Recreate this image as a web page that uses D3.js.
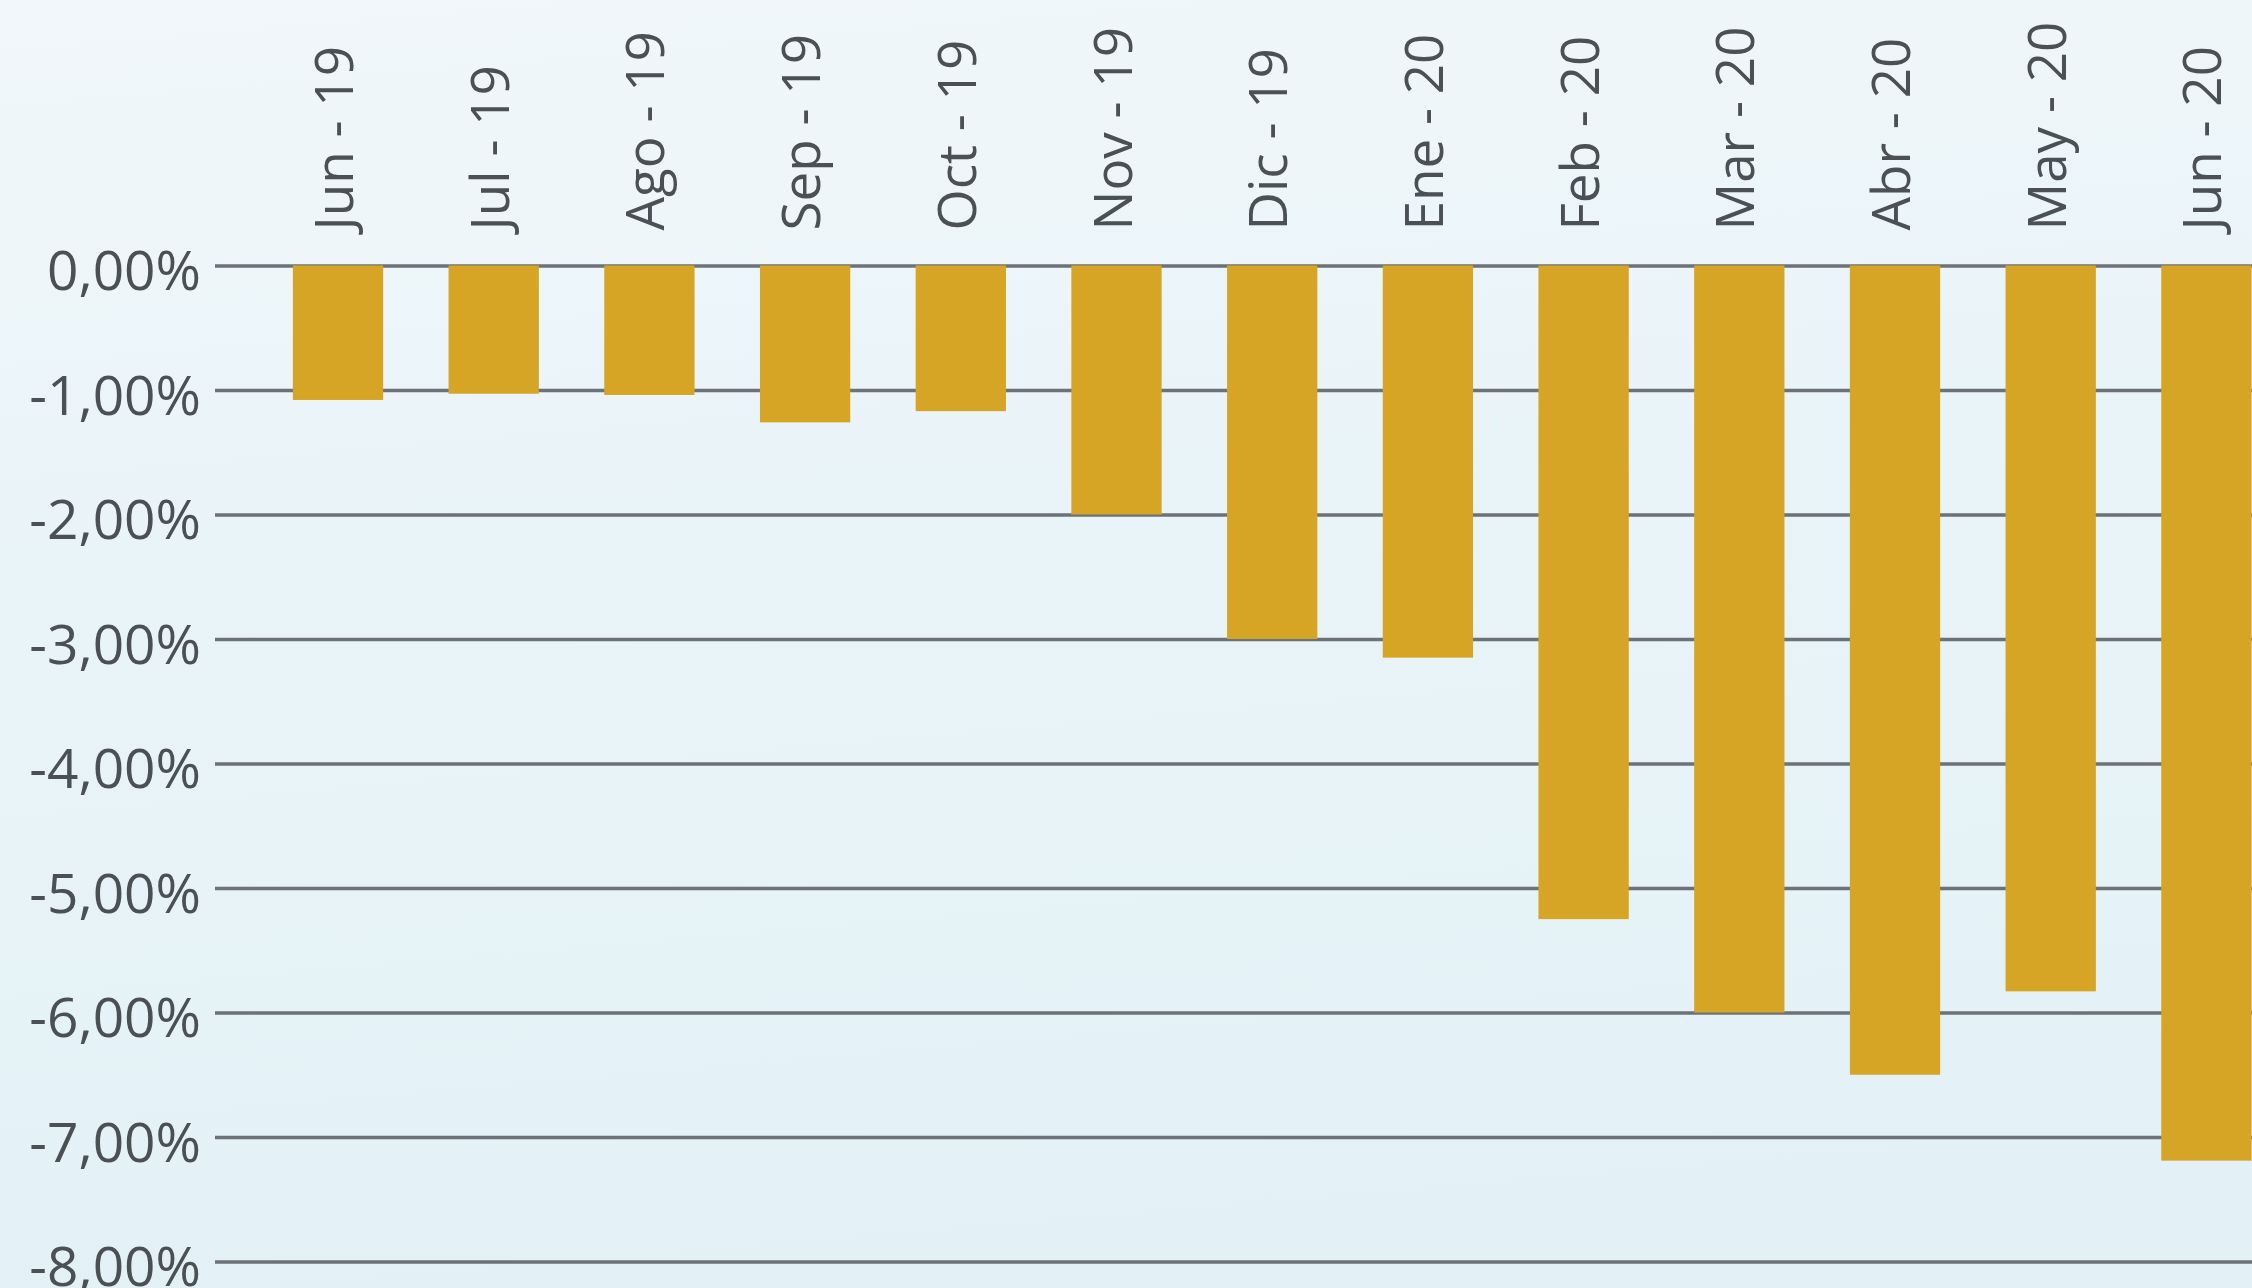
<!DOCTYPE html>
<html>
<head>
<meta charset="utf-8">
<script src="https://cdn.jsdelivr.net/npm/d3@7"></script>
<style>
  html, body { margin: 0; padding: 0; overflow: hidden; }
  body { width: 2252px; height: 1288px; }
</style>
</head>
<body>
<svg id="chart" width="2252" height="1288"></svg>
<script>
const categories = ["Jun - 19", "Jul - 19", "Ago - 19", "Sep - 19", "Oct - 19", "Nov - 19", "Dic - 19",
                    "Ene - 20", "Feb - 20", "Mar - 20", "Abr - 20", "May - 20", "Jun - 20"];
const values = [-1.08, -1.03, -1.04, -1.26, -1.17, -2.00, -3.00, -3.15, -5.25, -6.00, -6.50, -5.83, -7.19];
const yTicks = [0, -1, -2, -3, -4, -5, -6, -7, -8];
const yTickLabels = ["0,00%", "-1,00%", "-2,00%", "-3,00%", "-4,00%", "-5,00%", "-6,00%", "-7,00%", "-8,00%"];

const W = 2252, H = 1288;
const svg = d3.select("#chart");

// background
const defs = svg.append("defs");
const grad = defs.append("linearGradient").attr("id", "bg").attr("x1", 0).attr("y1", 0).attr("x2", 0.15).attr("y2", 1);
grad.append("stop").attr("offset", "0%").attr("stop-color", "#f1f7fa");
grad.append("stop").attr("offset", "45%").attr("stop-color", "#e9f4f8");
grad.append("stop").attr("offset", "100%").attr("stop-color", "#e3f1f6");
svg.append("rect").attr("width", W).attr("height", H).attr("fill", "url(#bg)");

const plotLeft = 215;
const step = 155.7;
const pInner = 0.42, pOuter = 0.5;
const rangeLen = step * (categories.length - pInner + 2 * pOuter);

const x = d3.scaleBand()
  .domain(categories)
  .range([plotLeft, plotLeft + rangeLen])
  .paddingInner(pInner)
  .paddingOuter(pOuter);

const y = d3.scaleLinear().domain([0, -8]).range([265.5, 1261.5]);

// gridlines
const grid = svg.append("g")
  .attr("transform", `translate(${plotLeft},0)`)
  .call(d3.axisLeft(y).tickValues(yTicks).tickSize(-(W - plotLeft)).tickFormat(""));
grid.select(".domain").remove();
grid.selectAll(".tick line").attr("stroke", "#6c7277").attr("stroke-width", 3.5);

// y labels
const yAxis = svg.append("g")
  .attr("transform", `translate(${plotLeft},0)`)
  .call(d3.axisLeft(y).tickValues(yTicks).tickSize(0).tickPadding(14)
        .tickFormat((d, i) => yTickLabels[i]));
yAxis.select(".domain").remove();
yAxis.selectAll("text")
  .attr("font-family", "'Open Sans', sans-serif")
  .attr("font-size", 55)
  .attr("fill", "#4b5055")
  .attr("dy", null)
  .attr("y", 24);

// bars
svg.append("g").selectAll("rect")
  .data(values)
  .join("rect")
  .attr("x", (d, i) => x(categories[i]))
  .attr("width", x.bandwidth())
  .attr("y", d => y(0))
  .attr("height", d => y(d) - y(0))
  .attr("fill", "#d6a526");

// month labels (rotated)
const xAxis = svg.append("g")
  .attr("transform", `translate(0,${y(0)})`)
  .call(d3.axisTop(x).tickSize(0).tickPadding(0));
xAxis.select(".domain").remove();
xAxis.selectAll("text")
  .attr("font-family", "'Open Sans', sans-serif")
  .attr("font-size", 53)
  .attr("fill", "#4b5055")
  .attr("text-anchor", "start")
  .attr("dy", null)
  .attr("x", 0)
  .attr("y", 0)
  .attr("transform", "translate(15,-35) rotate(-90)");
</script>
</body>
</html>
